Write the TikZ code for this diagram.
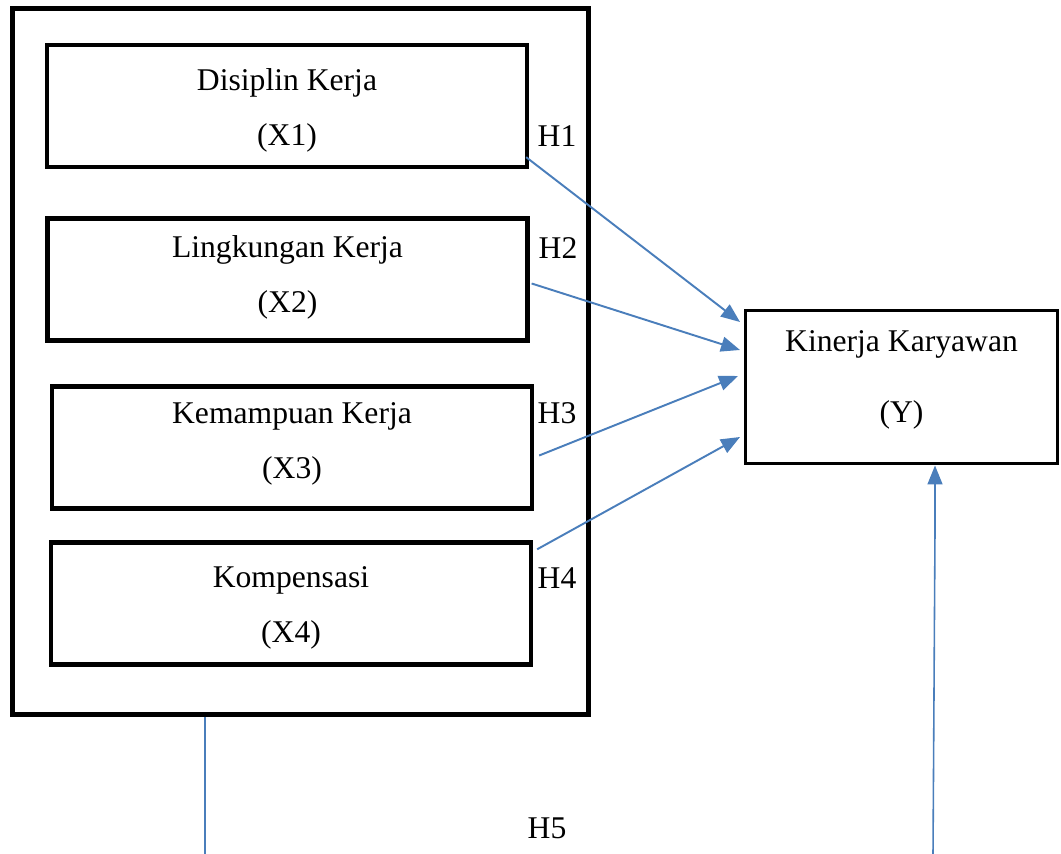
\documentclass[tikz,border=0pt]{standalone}
\usepackage{fontspec}
\setmainfont{Liberation Serif}
\usetikzlibrary{arrows.meta, positioning, calc}
\definecolor{linkblue}{RGB}{74,126,187}
\tikzset{
    varbox/.style={rectangle, draw=black, line width=2.5pt, minimum width=9.6cm, minimum height=2.44cm},
    vartext/.style={align=center, font=\fontsize{18}{31.5}\selectfont},
    groupbox/.style={rectangle, draw=black, line width=2.8pt, minimum width=11.54cm, minimum height=14.14cm},
    hyplabel/.style={font=\fontsize{18}{22}\selectfont},
    hyp/.style={-{Triangle[length=0.38cm, width=0.3cm]}, line width=1.1pt, linkblue},
    link/.style={line width=0.8pt, linkblue},
}
\begin{document}
\begin{tikzpicture}[x=0.02cm, y=-0.02cm]
    \useasboundingbox (0,0) rectangle (1061,854);
    \node[groupbox] (grp) at (300.5,361.5) {};
    \node[varbox, label={[vartext, yshift=-2.5pt]center:{Disiplin Kerja\\(X1)}}] (x1) at (287,106) {};
    \node[varbox, label={[vartext, yshift=1.2pt]center:{Lingkungan Kerja\\(X2)}}] (x2) at (287.5,279.5) {};
    \node[varbox, label={[vartext, yshift=2pt]center:{Kemampuan Kerja\\(X3)}}] (x3) at (292,447.5) {};
    \node[varbox, label={[vartext, yshift=-2.5pt]center:{Kompensasi\\(X4)}}] (x4) at (291,603.5) {};
    \node[varbox, line width=1.7pt, minimum width=6.26cm, minimum height=3.08cm,
        label={[vartext, font=\fontsize{18}{40}\selectfont, yshift=4pt]center:{Kinerja Karyawan\\(Y)}}] (ky) at (901.5,387) {};
    % hypothesis labels
    \node[hyplabel] (h1) at (557,136) {H1};
    \node[hyplabel] (h2) at (558,248) {H2};
    \node[hyplabel] (h3) at (557,413) {H3};
    \node[hyplabel] (h4) at (557,578) {H4};
    \node[hyplabel, font=\fontsize{18}{20}\selectfont] (h5) at (547,828) {H5};
    % arrow ends
    \coordinate (e1) at (740,322);
    \coordinate (e2) at (740,350);
    \coordinate (e3) at (738,376);
    \coordinate (e4) at (740,437);
    \draw[hyp] ([shift={(-3,-12)}]x1.south east) -- (e1);
    \draw[hyp] ([shift={(2,4)}]x2.east) -- (e2);
    \draw[hyp] ([shift={(5,8)}]x3.east) -- (e3);
    \draw[hyp] ([shift={(4,9)}]x4.north east) -- (e4);
    % H5 path
    \coordinate (l5) at (205,854);
    \coordinate (r5) at (933,854);
    \coordinate (k5) at (935,530);
    \draw[link] (grp.south -| l5) -- (l5);
    \draw[hyp, line width=0.9pt] (r5) -- (k5) -- (ky.south -| k5);
\end{tikzpicture}
\end{document}
